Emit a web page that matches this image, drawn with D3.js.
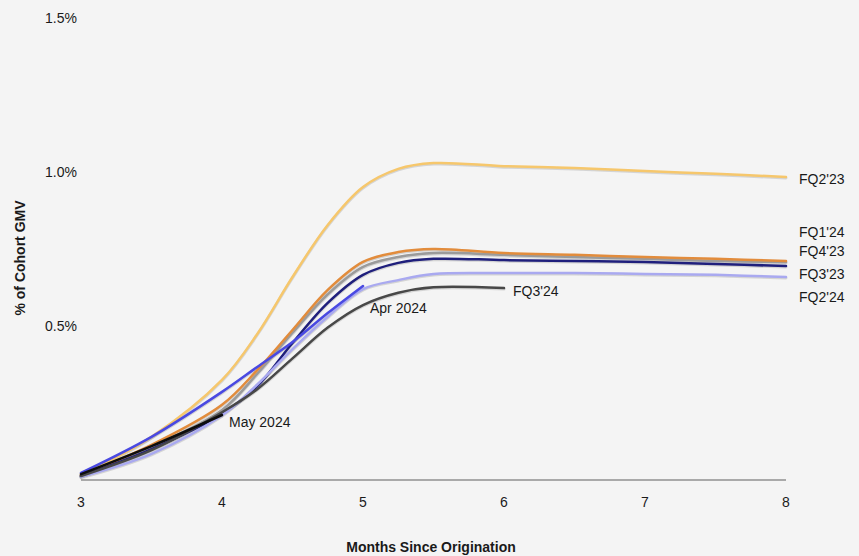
<!DOCTYPE html>
<html>
<head>
<meta charset="utf-8">
<script src="https://cdn.jsdelivr.net/npm/d3@7"></script>
<style>
  html, body { margin: 0; padding: 0; background: #f4f4f4; }
  svg { display: block; }
  text { font-family: "Liberation Sans", Arial, Helvetica, sans-serif; fill: #1a1a1a; }
</style>
</head>
<body>
<svg id="chart" width="859" height="556"></svg>
<script>
// ---- data (values in % of cohort GMV) ----
const months = [3, 3.5, 4, 4.25, 4.5, 4.75, 5, 5.25, 5.5, 6, 6.5, 7, 7.5, 8];
const xTicks = [3, 4, 5, 6, 7, 8];
const yTicks = [0.5, 1.0, 1.5];
const yTickLabels = ["0.5%", "1.0%", "1.5%"];

const fq2_23 = [0.016, 0.140, 0.325, 0.474, 0.659, 0.828, 0.951, 1.010, 1.029, 1.019, 1.013, 1.003, 0.994, 0.984];
const fq4_23 = [0.013, 0.107, 0.227, 0.345, 0.478, 0.603, 0.692, 0.724, 0.737, 0.731, 0.724, 0.718, 0.711, 0.708];
const fq1_24 = [0.016, 0.114, 0.244, 0.357, 0.487, 0.617, 0.708, 0.740, 0.750, 0.737, 0.731, 0.724, 0.718, 0.711];
const fq3_23 = [0.013, 0.100, 0.215, 0.305, 0.445, 0.575, 0.666, 0.705, 0.718, 0.714, 0.711, 0.708, 0.701, 0.695];
const fq2_24 = [0.010, 0.085, 0.210, 0.310, 0.425, 0.530, 0.620, 0.649, 0.669, 0.672, 0.672, 0.669, 0.666, 0.659];
const fq3_24 = [0.013, 0.097, 0.220, 0.295, 0.395, 0.495, 0.568, 0.608, 0.626, 0.623, null, null, null, null];
const apr_24 = [0.023, 0.140, 0.286, 0.367, 0.448, 0.542, 0.630, null, null, null, null, null, null, null];
const may_24 = [0.019, 0.110, 0.211, null, null, null, null, null, null, null, null, null, null, null];

const seriesNames  = ["FQ2'23", "FQ4'23", "FQ1'24", "FQ3'23", "FQ2'24", "FQ3'24", "Apr 2024", "May 2024"];
const seriesValues = [fq2_23, fq4_23, fq1_24, fq3_23, fq2_24, fq3_24, apr_24, may_24];
const seriesColors = ["#f6c76c", "#9b9b9b", "#e28c3c", "#1f1f7c", "#a9a9f0", "#484848", "#4949e2", "#0d0d0d"];

// label placement (text, data anchor)
const labelNames = ["FQ2'23", "FQ1'24", "FQ4'23", "FQ3'23", "FQ2'24", "FQ3'24", "Apr 2024", "May 2024"];
const labelX     = [8, 8, 8, 8, 8, 6, 5, 4];
const labelY     = [0.978, 0.806, 0.744, 0.669, 0.594, 0.614, 0.558, 0.188];

// ---- layout ----
const svg = d3.select("#chart");
const x = d3.scaleLinear().domain([3, 8]).range([81, 786]);
const y = d3.scaleLinear().domain([0, 1.5]).range([480, 18]);

// y tick labels
svg.append("g").selectAll("text").data(yTicks).join("text")
  .attr("x", 77).attr("y", d => y(d)).attr("dy", "0.35em")
  .attr("text-anchor", "end").attr("font-size", 14)
  .text((d, i) => yTickLabels[i]);

// x axis line
svg.append("line")
  .attr("x1", x(3)).attr("x2", x(8)).attr("y1", y(0)).attr("y2", y(0))
  .attr("stroke", "#a9a9a9").attr("stroke-width", 2);

// x tick labels
svg.append("g").selectAll("text").data(xTicks).join("text")
  .attr("x", d => x(d)).attr("y", 502).attr("dy", "0.35em")
  .attr("text-anchor", "middle").attr("font-size", 14)
  .text(d => d);

// axis titles
svg.append("text")
  .attr("x", 431).attr("y", 547).attr("dy", "0.35em")
  .attr("text-anchor", "middle").attr("font-size", 14).attr("font-weight", "bold")
  .text("Months Since Origination");

svg.append("text")
  .attr("transform", "translate(20,258) rotate(-90)")
  .attr("dy", "0.35em")
  .attr("text-anchor", "middle").attr("font-size", 14).attr("font-weight", "bold")
  .text("% of Cohort GMV");

// lines
const line = d3.line()
  .defined(d => d[1] != null)
  .x(d => x(d[0])).y(d => y(d[1]))
  .curve(d3.curveCatmullRom.alpha(0.5));

const series = seriesValues.map((vals, i) => ({
  name: seriesNames[i], color: seriesColors[i],
  pts: months.map((m, j) => [m, vals[j]]).filter(p => p[1] != null)
}));

const g = svg.append("g");
// faint shadow
g.selectAll("path.shadow").data(series).join("path")
  .attr("class", "shadow")
  .attr("d", d => line(d.pts))
  .attr("transform", "translate(0,1)")
  .attr("fill", "none").attr("stroke", "#8a8a8a").attr("stroke-opacity", 0.3)
  .attr("stroke-width", 3).attr("stroke-linecap", "round");
g.selectAll("path.series").data(series).join("path")
  .attr("class", "series")
  .attr("d", d => line(d.pts))
  .attr("fill", "none").attr("stroke", d => d.color)
  .attr("stroke-width", 2.5).attr("stroke-linecap", "round");

// labels
svg.append("g").selectAll("text").data(labelNames).join("text")
  .attr("x", (d, i) => x(labelX[i]) + (labelX[i] === 8 ? 13 : (labelX[i] === 6 ? 9 : 7)))
  .attr("y", (d, i) => y(labelY[i]))
  .attr("dy", "0.35em").attr("font-size", 14)
  .text(d => d);
</script>
</body>
</html>
